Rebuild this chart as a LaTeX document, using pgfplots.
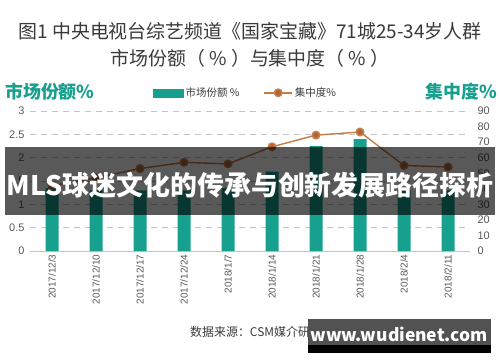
\documentclass[border=0pt]{standalone}
\usepackage{pgfplots}
\pgfplotsset{compat=1.18}
\usepackage{fontspec}
\setmainfont{Noto Sans CJK SC}
\newfontfamily\arialf{Liberation Sans}
\definecolor{barteal}{HTML}{17A08E}
\definecolor{lineor}{HTML}{C97C42}
\definecolor{mk}{HTML}{B5652F}
\definecolor{txt}{HTML}{3A3A3A}
\definecolor{tickc}{HTML}{595959}
\definecolor{gridc}{HTML}{C4C4C4}
\pgfplotsset{
  widelinelegend/.style={legend image code/.code={\draw[mark repeat=2, mark phase=2, ##1] plot coordinates {(0bp,0bp) (14bp,0bp) (28bp,0bp)};}},
  barlegend/.style={legend image code/.code={\fill[barteal] (0bp,-4bp) rectangle (30bp,4bp);}},
}
\begin{document}
\begin{tikzpicture}
\fill[white] (0,0) rectangle (500bp,-362bp);
\node[font=\fontsize{19}{22}\selectfont, text=txt] at (250bp,-31bp) {图1 中央电视台综艺频道《国家宝藏》71城25-34岁人群};
\node[font=\fontsize{19}{22}\selectfont, text=txt] at (250bp,-58bp) {市场份额（ \% ）与集中度（ \% ）};
\node[anchor=west, font=\bfseries\fontsize{18}{20}\selectfont, text=barteal, inner sep=0pt] at (5bp,-92bp) {市场份额\%};
\node[anchor=east, font=\bfseries\fontsize{18}{20}\selectfont, text=barteal, inner sep=0pt] at (497bp,-92bp) {集中度\%};
\begin{axis}[
  at={(30bp,-251bp)}, anchor=south west, scale only axis,
  width=440bp, height=140bp,
  xmin=-0.5, xmax=9.5, ymin=0, ymax=3,
  ytick={0,0.5,1,1.5,2,2.5,3},
  xtick={0,...,9},
  xticklabels={2017/12/3,2017/12/10,2017/12/17,2017/12/24,2018/1/7,2018/1/14,2018/1/21,2018/1/28,2018/2/4,2018/2/11},
  x tick label style={rotate=90, anchor=east, font=\arialf\fontsize{10}{12}\selectfont, text=tickc},
  yticklabel style={font=\arialf\fontsize{11}{12}\selectfont, text=tickc},
  /pgf/number format/assume math mode=true,
  axis y line*=left, axis x line*=bottom,
  y axis line style={draw=none},
  x axis line style={draw=gridc, line width=0.8bp},
  tick style={draw=none}, major tick length=0pt,
  ymajorgrids, grid style={draw=gridc, line width=0.8bp, dash pattern=on 6bp off 5bp},
  yticklabel shift=2bp,
]
\addplot[ybar, bar width=13bp, fill=barteal, draw=none] coordinates {
(0,1.35) (1,1.3) (2,1.3) (3,1.3) (4,1.35) (5,1.7) (6,2.25) (7,2.4) (8,1.3) (9,1.3)};
\end{axis}
\begin{axis}[
  at={(30bp,-251bp)}, anchor=south west, scale only axis,
  width=440bp, height=140bp,
  xmin=-0.5, xmax=9.5, ymin=0, ymax=90,
  ytick={0,10,...,90},
  axis y line*=right, axis x line=none,
  y axis line style={draw=none},
  tick style={draw=none}, major tick length=0pt,
  yticklabel style={font=\arialf\fontsize{11}{12}\selectfont, text=tickc, anchor=west, xshift=4bp},
  /pgf/number format/assume math mode=true,
  legend style={at={(0.273,1.13)}, anchor=west, draw=none, fill=none,
    font=\fontsize{10.5}{12}\selectfont, text=txt,
    /tikz/every even column/.append style={column sep=22bp}},
  legend columns=2,
]
\addlegendimage{barlegend}
\addlegendentry{市场份额 \%}
\addplot[color=lineor, line width=1.4bp, mark=*, mark size=3.8bp, mark options={fill=mk, draw=mk!80!white}, widelinelegend]
 coordinates {(0,42) (1,47) (2,53) (3,57) (4,56) (5,67) (6,74.5) (7,76.5) (8,55) (9,54)};
\addlegendentry{集中度\%}
\end{axis}
\node[anchor=west, font=\fontsize{12}{14}\selectfont, text=txt, inner sep=0pt] at (190bp,-332bp) {数据来源：CSM媒介研究};
\fill[black, fill opacity=0.65] (5bp,-147bp) rectangle (495bp,-215bp);
\node[font=\bfseries\fontsize{27}{30}\selectfont, text=white] at (250bp,-185bp) {MLS球迷文化的传承与创新发展路径探析};
\fill[black!68] (308bp,-319bp) rectangle (491bp,-345bp);
\fill[black] (308bp,-345bp) rectangle (491bp,-353bp);
\node[font=\bfseries\fontsize{17.5}{20}\selectfont, text=white] at (399bp,-334bp) {www.wudienet.com};
\end{tikzpicture}
\end{document}
